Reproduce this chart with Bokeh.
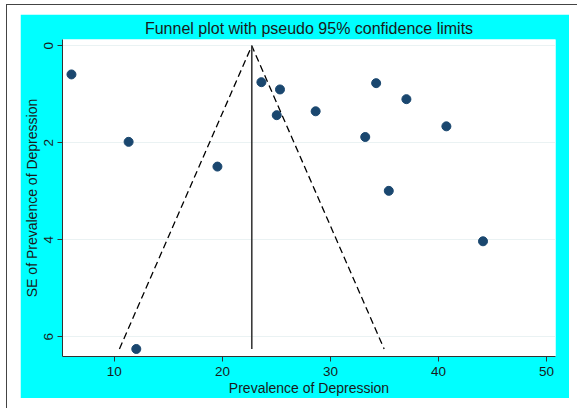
from bokeh.plotting import figure
from bokeh.models import Range1d, FixedTicker
from bokeh.layouts import column
from bokeh.embed import file_html
from bokeh.resources import INLINE

# Data
prevalence = [6.03, 11.32, 12.03, 19.54, 23.61, 25.33, 25.03, 28.63, 33.22, 34.23, 37.03, 40.73, 35.40, 44.12]
se = [0.59, 1.98, 6.25, 2.49, 0.75, 0.90, 1.43, 1.35, 1.88, 0.77, 1.10, 1.66, 2.99, 4.03]
pooled = 22.72
x_ticks = [10, 20, 30, 40, 50]
y_ticks = [0, 2, 4, 6]

FONT = "Liberation Sans"
TXT = "#1a1a1a"

p = figure(width=549, height=384, output_backend="svg", toolbar_location=None,
           x_range=Range1d(5.2, 50.83), y_range=Range1d(6.405, -0.13),
           title="Funnel plot with pseudo 95% confidence limits",
           min_border_left=41, min_border_right=14, min_border_top=25, min_border_bottom=41)
p.margin = (9, 8, 10, 13)
p.border_fill_color = "#00ffff"
p.background_fill_color = "white"
p.outline_line_color = None

p.title.align = "center"
p.title.text_font = FONT
p.title.text_font_size = "16px"
p.title.text_font_style = "normal"
p.title.text_color = TXT
p.title.standoff = 5

# funnel limits (pseudo 95% CI around the pooled estimate)
zmax = max(se)
p.line([pooled - 1.96 * zmax, pooled, pooled + 1.96 * zmax], [zmax, 0, zmax],
       line_color="black", line_width=1.3, line_dash="7 4")
p.line([pooled, pooled], [0, zmax], line_color="#3a3a3a", line_width=1.6)

p.scatter(prevalence, se, size=9, fill_color="#1a476f", line_color="#1a476f")

p.xaxis.ticker = FixedTicker(ticks=x_ticks)
p.yaxis.ticker = FixedTicker(ticks=y_ticks)
p.xaxis.axis_label = "Prevalence of Depression"
p.yaxis.axis_label = "SE of Prevalence of Depression"
for ax in (p.xaxis[0], p.yaxis[0]):
    ax.axis_label_text_font = FONT
    ax.axis_label_text_font_size = "14px"
    ax.axis_label_text_font_style = "normal"
    ax.axis_label_text_color = TXT
    ax.major_label_text_font = FONT
    ax.major_label_text_font_size = "13.5px"
    ax.major_label_text_color = TXT
    ax.axis_line_color = "#333333"
    ax.major_tick_line_color = "#333333"
    ax.major_tick_out = 5
    ax.major_tick_in = 0
    ax.minor_tick_line_color = None
p.xaxis.major_label_standoff = 5
p.xaxis.axis_label_standoff = 1
p.yaxis.major_label_orientation = "vertical"
p.yaxis.major_label_standoff = 4
p.yaxis.axis_label_standoff = 2

p.xgrid.grid_line_color = None
p.ygrid.grid_line_color = "#eaf2f3"
p.ygrid.grid_line_width = 1.2

root = column(p, margin=(4, 0, 0, 6),
              styles={"border-top": "1px solid #444444", "border-left": "1px solid #444444"})

open("out.html", "w").write(file_html(root, INLINE))
